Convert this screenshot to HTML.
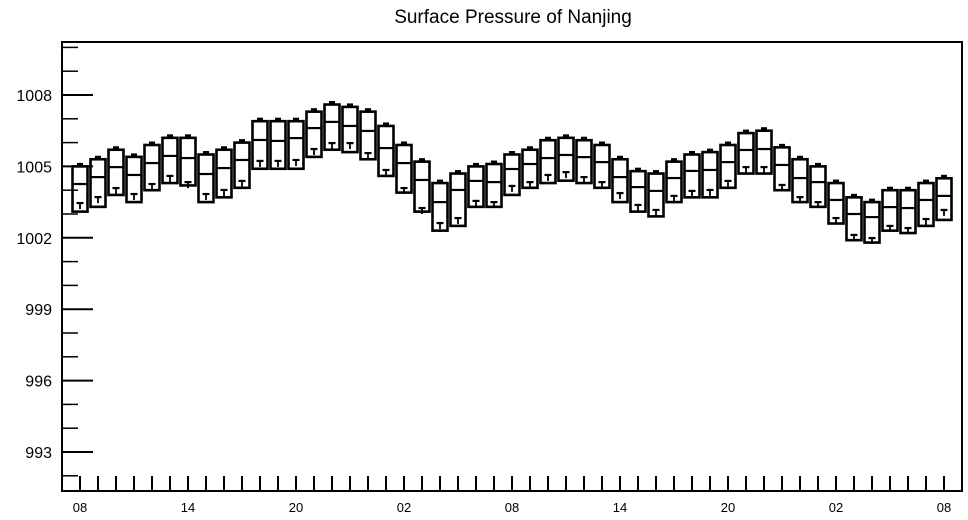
<!DOCTYPE html>
<html><head><meta charset="utf-8"><style>
body{margin:0;background:#fff;width:968px;height:520px;overflow:hidden}
svg{display:block;font-family:"Liberation Sans",sans-serif}
</style></head><body>
<svg id="chart" width="968" height="520" viewBox="0 0 968 520">
<text x="513" y="23" font-size="19" text-anchor="middle">Surface Pressure of Nanjing</text>
<g id="axes"></g>
<g id="boxes"></g>
</svg>
<script>
const hourLabels = ["08","14","20","02","08","14","20","02","08"];
const yTickLabels = [993,996,999,1002,1005,1008];
const maxP = [1005.0,1005.3,1005.7,1005.4,1005.9,1006.2,1006.2,1005.5,1005.7,1006.0,1006.9,1006.9,1006.9,1007.3,1007.6,1007.5,1007.3,1006.7,1005.9,1005.2,1004.3,1004.7,1005.0,1005.1,1005.5,1005.7,1006.1,1006.2,1006.1,1005.9,1005.3,1004.8,1004.7,1005.2,1005.5,1005.6,1005.9,1006.4,1006.5,1005.8,1005.3,1005.0,1004.3,1003.7,1003.5,1004.0,1004.0,1004.3,1004.5];
const meanP = [1004.26,1004.55,1004.97,1004.64,1005.14,1005.44,1005.35,1004.68,1004.93,1005.27,1006.11,1006.07,1006.19,1006.61,1006.87,1006.70,1006.49,1005.77,1005.14,1004.43,1003.50,1004.01,1004.39,1004.34,1004.89,1005.10,1005.35,1005.48,1005.39,1005.18,1004.55,1004.13,1003.97,1004.51,1004.81,1004.85,1005.18,1005.69,1005.73,1005.06,1004.51,1004.34,1003.59,1003.00,1002.87,1003.29,1003.25,1003.59,1003.76];
const minP = [1003.1,1003.3,1003.8,1003.5,1004.0,1004.3,1004.2,1003.5,1003.7,1004.1,1004.9,1004.9,1004.9,1005.4,1005.7,1005.6,1005.3,1004.6,1003.9,1003.1,1002.3,1002.5,1003.3,1003.3,1003.8,1004.1,1004.3,1004.4,1004.3,1004.1,1003.5,1003.1,1002.9,1003.5,1003.7,1003.7,1004.1,1004.7,1004.7,1004.0,1003.5,1003.3,1002.6,1001.9,1001.8,1002.3,1002.2,1002.5,1002.75];
const markP = [1003.46,1003.71,1004.09,1003.84,1004.26,1004.60,1004.34,1003.84,1004.01,1004.39,1005.23,1005.23,1005.27,1005.73,1005.98,1005.98,1005.56,1004.85,1004.09,1003.25,1002.62,1002.83,1003.55,1003.50,1004.18,1004.34,1004.64,1004.76,1004.55,1004.34,1003.88,1003.38,1003.17,1003.76,1003.97,1004.01,1004.39,1004.97,1004.97,1004.22,1003.71,1003.50,1002.83,1002.12,1001.99,1002.50,1002.41,1002.79,1003.17];

const NS="http://www.w3.org/2000/svg";
const L=62,R=962,T=42,B=491;
const y=v=>95+(1008-v)*23.8;
const x=i=>80+i*18;
function mk(tag,attrs,parent){const e=document.createElementNS(NS,tag);for(const k in attrs)e.setAttribute(k,attrs[k]);parent.appendChild(e);return e;}
const ax=document.getElementById('axes');
const frame=mk('rect',{x:L,y:T,width:R-L,height:B-T,fill:'none',stroke:'#000','stroke-width':2},ax);


for(let v=992;v<=1010;v++){
  const major=yTickLabels.includes(v);
  const t=mk('line',{x1:L,x2:major?93:78,y1:y(v),y2:y(v),stroke:'#000','stroke-width':major?2:1.5},ax);
  
  
  if(major){
    const lb=mk('text',{x:52,y:y(v)+6,'font-size':16,'text-anchor':'end'},ax);
    lb.textContent=v;
    
    
  }
}
for(let i=0;i<maxP.length;i++){
  const t=mk('line',{x1:x(i),x2:x(i),y1:476,y2:B,stroke:'#000','stroke-width':2},ax);
  
  
}
hourLabels.forEach((h,k)=>{
  const lb=mk('text',{x:x(k*6),y:512,'font-size':13,'text-anchor':'middle'},ax);
  lb.textContent=h;
  
  
});
const bx=document.getElementById('boxes');
for(let i=0;i<maxP.length;i++){
  const g=mk('g',{},bx);
  
  
  const cx=x(i),yt=y(maxP[i]),yb=y(minP[i]),ym=y(meanP[i]),yk=y(markP[i]);
  mk('rect',{x:cx-7.5,y:yt,width:15,height:yb-yt,fill:'none',stroke:'#000','stroke-width':2.6},g);
  mk('line',{x1:cx-7.5,x2:cx+7.5,y1:ym,y2:ym,stroke:'#000','stroke-width':2.2},g);
  mk('rect',{x:cx-3,y:yt-3.5,width:6,height:3,fill:'#000'},g);
  mk('line',{x1:cx-3.5,x2:cx+3.5,y1:yk,y2:yk,stroke:'#000','stroke-width':2.2},g);
  mk('line',{x1:cx,x2:cx,y1:yk,y2:yk+6,stroke:'#000','stroke-width':1.8},g);
}
</script>
</body></html>
